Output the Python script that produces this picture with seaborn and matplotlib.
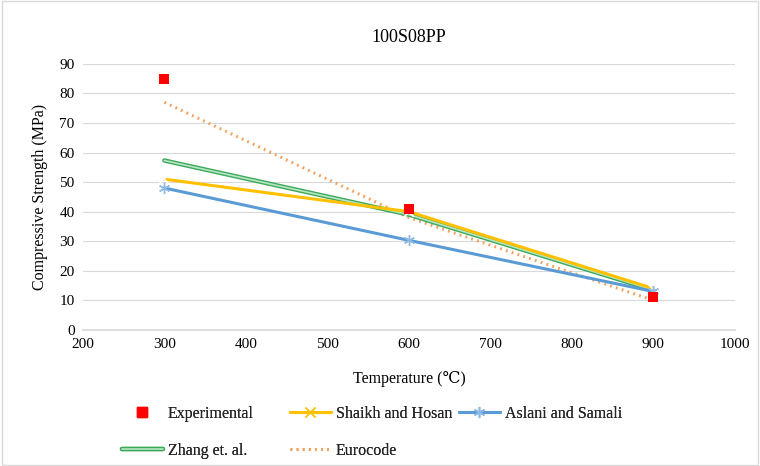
import matplotlib
matplotlib.use("Agg")
import matplotlib.pyplot as plt
import seaborn as sns
import pandas as pd
from matplotlib.lines import Line2D
import matplotlib.patheffects as pe

temps = [300, 600, 900]
experimental = [85, 41, 11]
shaikh = [51, 40, 14]
aslani = [48, 30.3, 13]
zhang = [57.3, 39, 13.5]
eurocode = [77, 38, 10]

sns.set_theme(style="white")
plt.rcParams['font.family'] = ['Liberation Serif', 'DejaVu Serif']

fig = plt.figure(figsize=(7.6, 4.66), dpi=100)
ax = fig.add_axes([0.109, 0.292, 0.858, 0.571])

df = pd.DataFrame({"T": temps, "exp": experimental, "sh": shaikh,
                   "as": aslani, "zh": zhang, "eu": eurocode})

sns.lineplot(data=df, x="T", y="eu", ax=ax, color="#F4A15D", lw=2.2,
             linestyle=(0, (0.6, 1.4)), dash_capstyle="butt")
sns.lineplot(data=df, x="T", y="zh", ax=ax, color="#3DAA5A", lw=3.2)
sns.lineplot(data=df, x="T", y="zh", ax=ax, color="#B8E6C4", lw=1.2)
sns.lineplot(data=df, x="T", y="sh", ax=ax, color="#FFC000", lw=2.2,
             marker="x", markersize=7, mew=1.2)
sns.lineplot(data=df, x="T", y="as", ax=ax, color="#5B9BD5", lw=2.2,
             marker=(6, 2, 0), markersize=8, mew=1.0, markeredgecolor="#8DB8E4")
sns.scatterplot(data=df, x="T", y="exp", ax=ax, color="#FF0000", marker="s",
                s=55, edgecolor="#FF0000", linewidth=0, zorder=5)

ax.set_xlim(200, 1000)
ax.set_ylim(0, 90)
ax.set_xticks(range(200, 1001, 100))
ax.set_yticks(range(0, 91, 10))
ax.yaxis.grid(True, color="#D9D9D9", lw=0.8)
ax.xaxis.grid(False)
for s in ["top", "right", "left"]:
    ax.spines[s].set_visible(False)
ax.spines["bottom"].set_color("#D9D9D9")
ax.tick_params(axis="both", labelsize=11, colors="#404040", length=0, pad=6)
for lab in ax.get_xticklabels() + ax.get_yticklabels():
    lab.set_color("#000000")
ax.set_xlabel("Temperature (℃)", fontsize=11.5, color="#000000", labelpad=14)
ax.set_ylabel("Compressive Strength (MPa)", fontsize=11.5, color="#000000", labelpad=8)
ax.set_title("100S08PP", fontsize=13, color="#000000", pad=16)

h_exp = Line2D([], [], color="#FF0000", marker="s", linestyle="none", markersize=7)
h_sh = Line2D([], [], color="#FFC000", lw=2.2, marker="x", markersize=7)
h_as = Line2D([], [], color="#5B9BD5", lw=2.2, marker=(6, 2, 0), markersize=8, markeredgecolor="#8DB8E4")
h_zh = Line2D([], [], color="#B8E6C4", lw=1.2,
              path_effects=[pe.Stroke(linewidth=3.2, foreground="#3DAA5A"), pe.Normal()])
h_eu = Line2D([], [], color="#F4A15D", lw=2.2, linestyle=(0, (0.6, 1.4)))

cols = [([h_exp, h_zh], ["Experimental", "Zhang et. al."], 122),
        ([h_sh, h_eu], ["Shaikh and Hosan", "Eurocode"], 290),
        ([h_as], ["Aslani and Samali"], 459)]
for hs, ls, xpx in cols:
    leg = fig.legend(hs, ls, loc="upper left", bbox_to_anchor=(xpx / 760, 1 - 406 / 466),
                     frameon=False, fontsize=11.5, handlelength=2.55,
                     labelspacing=1.3, handletextpad=0.3, borderpad=0, borderaxespad=0)
    fig.add_artist(leg)

fig.patches.append(plt.Rectangle((0.002, 0.002), 0.996, 0.996, transform=fig.transFigure,
                                 fill=False, edgecolor="#D9D9D9", lw=1))
fig.savefig("out.png", dpi=100)
